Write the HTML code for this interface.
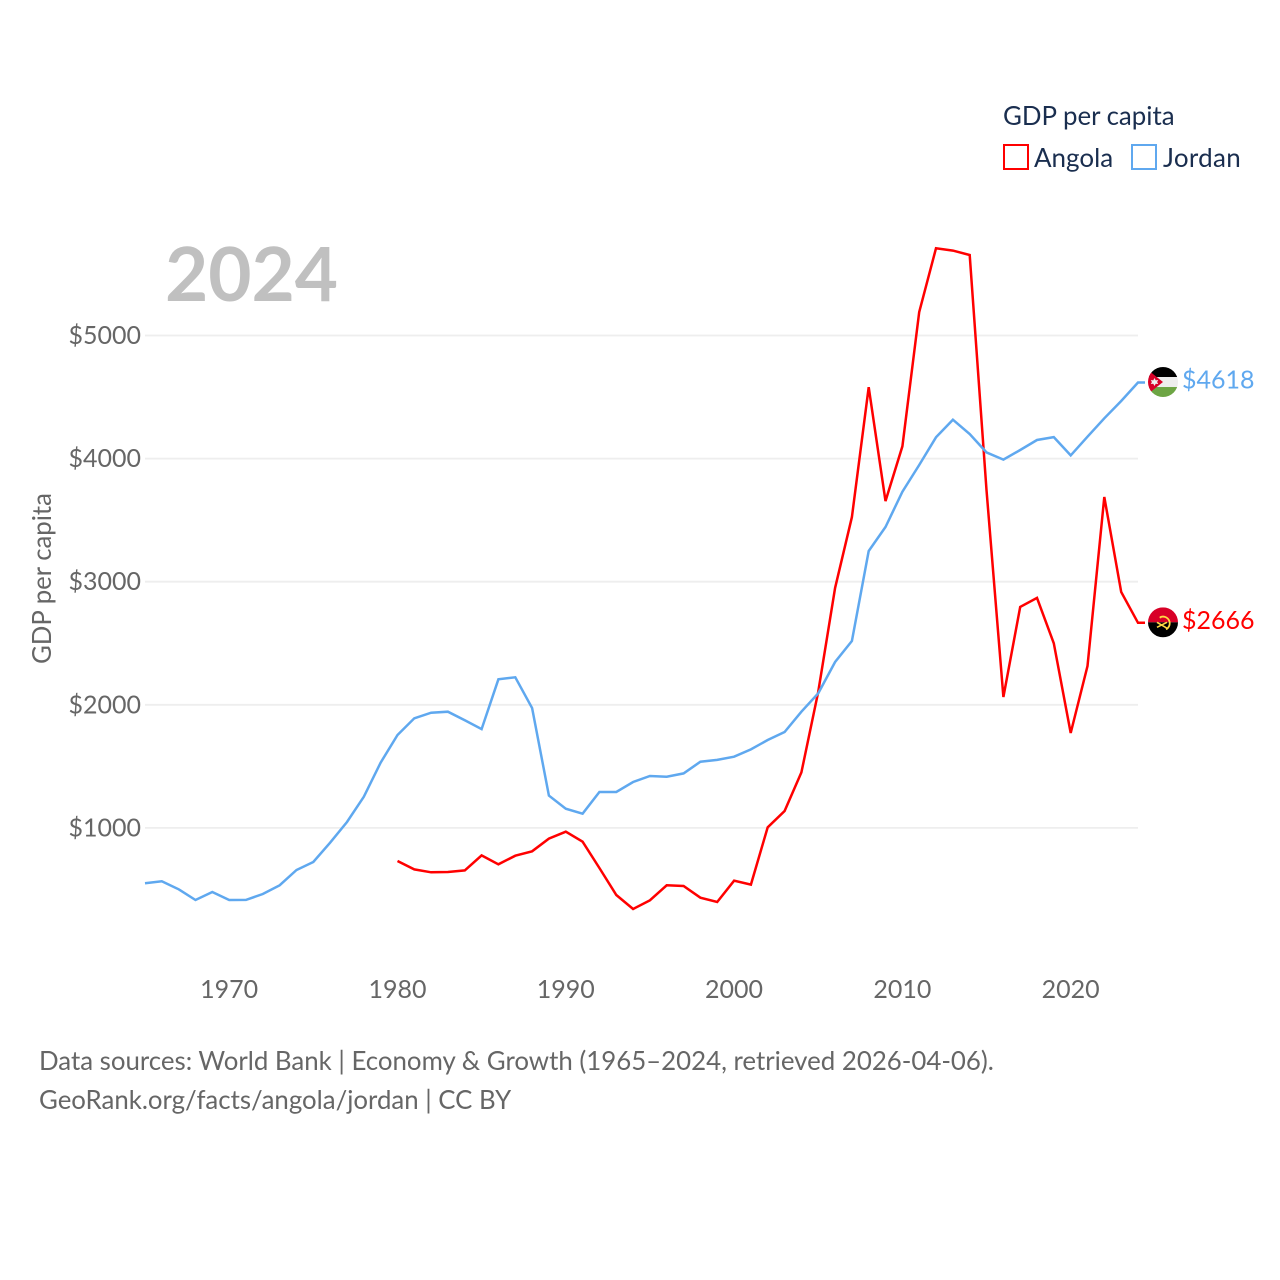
<!DOCTYPE html>
<html lang="en">
<head>
<meta charset="utf-8">
<title>GDP per capita: Angola and Jordan</title>
<style>
html,body{margin:0;padding:0;background:#fff;width:1280px;height:1280px;overflow:hidden}
svg{display:block}
text{font-family:"Lato","Carlito","Liberation Sans",sans-serif}
</style>
</head>
<body>
<svg id="chart" xmlns="http://www.w3.org/2000/svg" width="1280" height="1280" viewBox="0 0 1280 1280">
  <rect x="0" y="0" width="1280" height="1280" fill="#ffffff"/>
  <g id="grid"></g>
  <text x="165" y="301" font-size="74.6" font-weight="700" fill="#c0c0c0">2024</text>
  <g id="yticks"></g>
  <g id="xticks"></g>
  <text transform="translate(51,664) rotate(-90)" font-size="25.75" fill="#666666">GDP per capita</text>
  <g id="series"></g>

  <g>
    <text x="1003" y="125" font-size="25.85" fill="#1a2e4f">GDP per capita</text>
    <rect x="1004" y="145" width="24" height="24" fill="none" stroke="#ff0000" stroke-width="2"/>
    <text x="1034" y="167" font-size="26" fill="#1a2e4f">Angola</text>
    <rect x="1132" y="145" width="24" height="24" fill="none" stroke="#5fa8ef" stroke-width="2"/>
    <text x="1163" y="167" font-size="26" letter-spacing="0.3" fill="#1a2e4f">Jordan</text>
  </g>

  <defs>
    <clipPath id="flagClip"><circle cx="0" cy="0" r="15"/></clipPath>
  </defs>
  <g id="flagJordan">
    <g clip-path="url(#flagClip)">
      <rect x="-15" y="-15" width="30" height="10" fill="#000000"/>
      <rect x="-15" y="-5" width="30" height="10" fill="#eeeeee"/>
      <rect x="-15" y="5" width="30" height="10" fill="#6da544"/>
      <polygon points="-15,-12 -15,12 0,0" fill="#d80027"/>
      <polygon points="-8.5,-4 -7.3,-1.7 -4.8,-2 -5.9,0 -4.8,2 -7.3,1.7 -8.5,4 -9.7,1.7 -12.2,2 -11.1,0 -12.2,-2 -9.7,-1.7" fill="#eeeeee"/>
    </g>
  </g>
  <g id="flagAngola">
    <g clip-path="url(#flagClip)">
      <rect x="-15" y="-15" width="30" height="15" fill="#d80027"/>
      <rect x="-15" y="0" width="30" height="15" fill="#000000"/>
      <path d="M-2,-6 A6.5,6.5 0 1 1 4,6" fill="none" stroke="#ffda44" stroke-width="1.8" transform="translate(-1,1)"/>
      <path d="M-6,5 L4,0" stroke="#ffda44" stroke-width="1.6" fill="none"/>
      <path d="M-6,0 L5,6.5" stroke="#ffda44" stroke-width="1.6" fill="none"/>
      <circle cx="-2.5" cy="-5" r="1" fill="#ffda44"/>
    </g>
  </g>
  <g id="endLabels"></g>

  <g>
    <text x="39" y="1070" font-size="25.84" fill="#666666">Data sources: World Bank | Economy &amp; Growth (1965–2024, retrieved 2026-04-06).</text>
    <text x="39" y="1109" font-size="25.8" fill="#666666">GeoRank.org/facts/angola/jordan | CC BY</text>
  </g>
</svg>
<script>
const startYear = 1965;
const jordanStartYear = 1965;
const angolaStartYear = 1980;
const jordanValues = [550,566,501,414,479,414,415,463,534,658,723,880,1048,1253,1530,1755,1890,1936,1944,1874,1803,2207,2223,1974,1262,1156,1115,1292,1292,1373,1422,1416,1443,1538,1552,1578,1638,1714,1779,1944,2093,2348,2518,3249,3444,3731,3948,4173,4316,4200,4050,3992,4070,4151,4175,4026,4178,4327,4468,4618];
const angolaValues = [731,663,639,642,655,777,704,774,810,913,969,888,674,455,341,412,534,528,433,398,571,539,1005,1137,1451,2104,2950,3525,4580,3655,4100,5190,5708,5690,5654,3745,2063,2795,2868,2500,1771,2315,3688,2916,2666];
const yTickValues = [1000,2000,3000,4000,5000];
const xTickYears = [1970,1980,1990,2000,2010,2020];

const NS = 'http://www.w3.org/2000/svg';
function xScale(year){ return 145 + (year - 1965) * (993 / 59); }
function yScale(value){ return 951 - value * 0.1231; }
function make(tag, parent){
  const el = document.createElementNS(NS, tag);
  parent.appendChild(el);
  return el;
}

const gridGroup = document.getElementById('grid');
const yTickGroup = document.getElementById('yticks');
yTickValues.forEach(function(v){
  const line = make('line', gridGroup);
  
  
  line.setAttribute('x1', 145);
  line.setAttribute('x2', 1138);
  line.setAttribute('y1', yScale(v));
  line.setAttribute('y2', yScale(v));
  line.setAttribute('stroke', '#eeeeee');
  line.setAttribute('stroke-width', '1.8');
  const t = make('text', yTickGroup);
  
  
  t.setAttribute('x', 141);
  t.setAttribute('y', yScale(v) + 8.5);
  t.setAttribute('text-anchor', 'end');
  t.setAttribute('font-size', '25');
  t.setAttribute('fill', '#666666');
  t.textContent = '$' + v;
});

const xTickGroup = document.getElementById('xticks');
xTickYears.forEach(function(y){
  const t = make('text', xTickGroup);
  
  
  t.setAttribute('x', xScale(y));
  t.setAttribute('y', 998);
  t.setAttribute('text-anchor', 'middle');
  t.setAttribute('font-size', '25');
  t.setAttribute('fill', '#666666');
  t.textContent = String(y);
});

function buildPoints(values, firstYear){
  const pts = values.map(function(v, i){
    return xScale(firstYear + i).toFixed(1) + ',' + yScale(v).toFixed(1);
  });
  const last = values[values.length - 1];
  pts.push('1145,' + yScale(last).toFixed(1));
  return pts.join(' ');
}

const seriesGroup = document.getElementById('series');
const angolaLine = make('polyline', seriesGroup);


angolaLine.setAttribute('points', buildPoints(angolaValues, angolaStartYear));
angolaLine.setAttribute('fill', 'none');
angolaLine.setAttribute('stroke', '#ff0000');
angolaLine.setAttribute('stroke-width', '2.5');

const jordanLine = make('polyline', seriesGroup);


jordanLine.setAttribute('points', buildPoints(jordanValues, jordanStartYear));
jordanLine.setAttribute('fill', 'none');
jordanLine.setAttribute('stroke', '#5fa8ef');
jordanLine.setAttribute('stroke-width', '2.5');

const jordanLast = jordanValues[jordanValues.length - 1];
const angolaLast = angolaValues[angolaValues.length - 1];
document.getElementById('flagJordan').setAttribute('transform', 'translate(1163,' + (yScale(jordanLast) - 0.5) + ')');
document.getElementById('flagAngola').setAttribute('transform', 'translate(1163,' + (yScale(angolaLast) - 0.5) + ')');

const labelGroup = document.getElementById('endLabels');
const jordanLabel = make('text', labelGroup);


jordanLabel.setAttribute('x', 1182);
jordanLabel.setAttribute('y', yScale(jordanLast) + 6);
jordanLabel.setAttribute('font-size', '25');
jordanLabel.setAttribute('fill', '#5fa8ef');
jordanLabel.textContent = '$' + jordanLast;

const angolaLabel = make('text', labelGroup);


angolaLabel.setAttribute('x', 1182);
angolaLabel.setAttribute('y', yScale(angolaLast) + 6);
angolaLabel.setAttribute('font-size', '25');
angolaLabel.setAttribute('fill', '#ff0000');
angolaLabel.textContent = '$' + angolaLast;
</script>
</body>
</html>
